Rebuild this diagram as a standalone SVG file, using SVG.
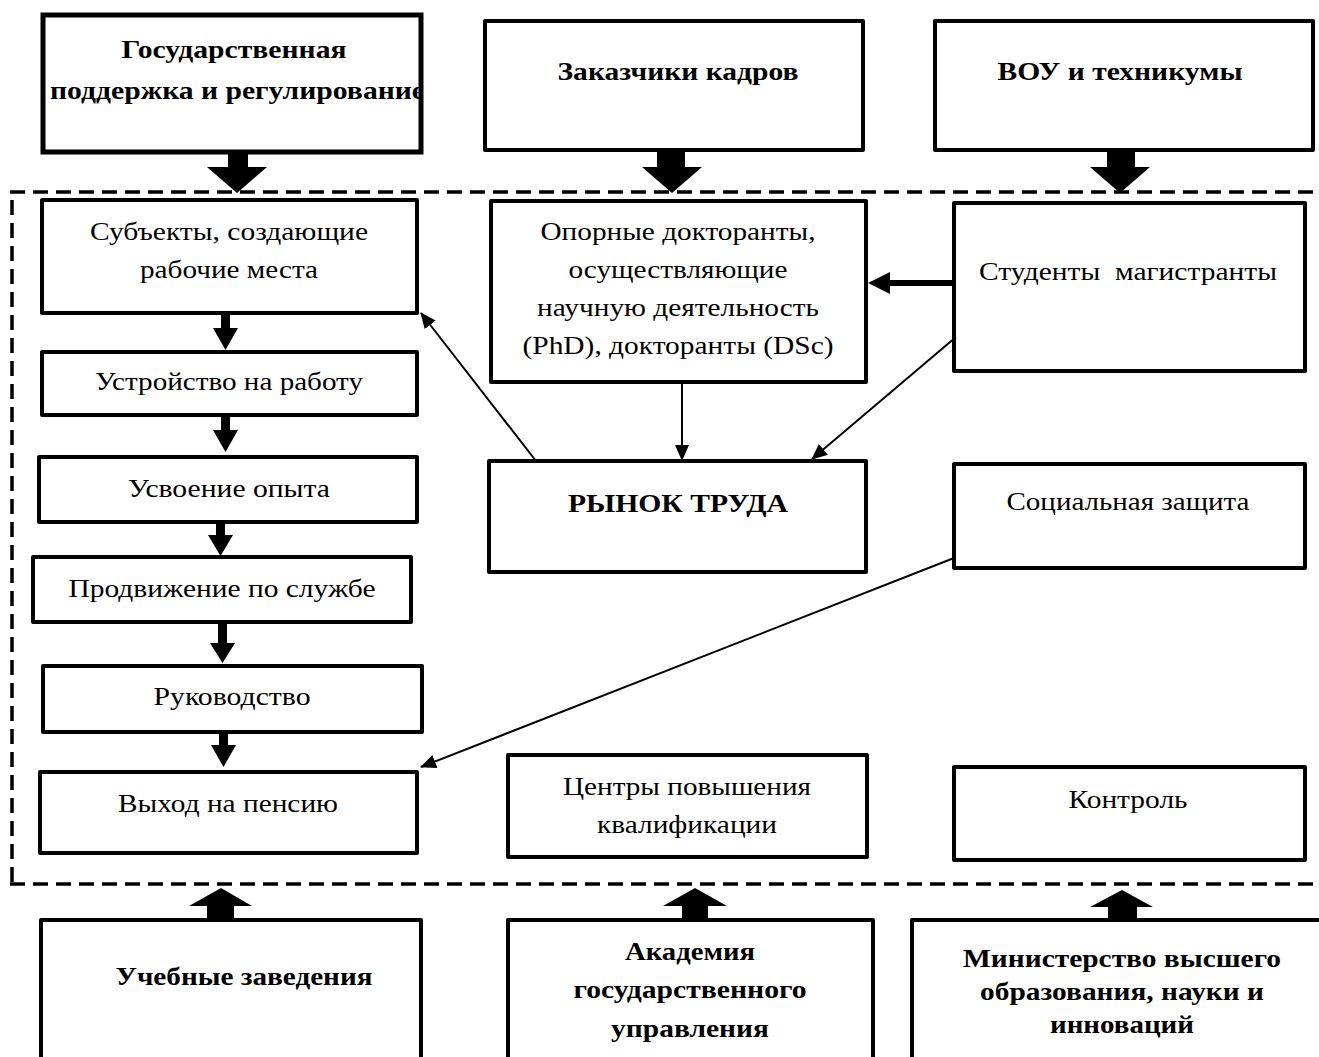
<svg xmlns="http://www.w3.org/2000/svg" width="1319" height="1057" viewBox="0 0 1319 1057">
<style>
.box{fill:#fff;stroke:#000;stroke-width:4;stroke-linejoin:round}
.t{font-family:"Liberation Serif","Times New Roman",serif;font-size:26px;fill:#000;text-anchor:middle}
.b{font-weight:bold}
.dash{fill:none;stroke:#000;stroke-width:3.5;stroke-dasharray:15 8}
.thin{fill:none;stroke:#000;stroke-width:2;marker-end:url(#ah)}
.fat{fill:#000;stroke:none}
</style>
<defs>
<marker id="ah" markerUnits="userSpaceOnUse" markerWidth="16" markerHeight="14" refX="15" refY="7" orient="auto">
<path d="M0,0 L16,7 L0,14 z" fill="#000"/>
</marker>
<clipPath id="clipG"><rect x="43" y="15" width="378" height="137"/></clipPath>
</defs>
<rect width="1319" height="1057" fill="#fff"/>

<g id="frame">
<line class="dash" x1="10" y1="192" x2="1319" y2="192"/>
<line class="dash" x1="12" y1="200" x2="12" y2="884"/>
<line class="dash" x1="10" y1="884" x2="1319" y2="884"/>
</g>

<g id="n-gos">
<rect class="box" x="43" y="15" width="378" height="137" stroke-width="5"/>
<text class="t b" x="234" y="58" textLength="225" lengthAdjust="spacingAndGlyphs">Государственная</text>
<g clip-path="url(#clipG)"><text class="t b" x="50" y="99" style="text-anchor:start" textLength="375" lengthAdjust="spacingAndGlyphs">поддержка и регулирование</text></g>
<rect x="43" y="15" width="378" height="137" fill="none" stroke="#000" stroke-width="5"/>
</g>
<g id="n-zak">
<rect class="box" x="485" y="21" width="378" height="129" stroke-width="5"/>
<text class="t b" x="678" y="80" textLength="241" lengthAdjust="spacingAndGlyphs">Заказчики кадров</text>
</g>
<g id="n-vou">
<rect class="box" x="935" y="21" width="378" height="129" stroke-width="5"/>
<text class="t b" x="1120" y="80" textLength="245" lengthAdjust="spacingAndGlyphs">ВОУ и техникумы</text>
</g>

<g id="n-subj">
<rect class="box" x="42" y="200" width="375" height="113"/>
<text class="t" x="229" y="240" textLength="278" lengthAdjust="spacingAndGlyphs">Субъекты, создающие</text>
<text class="t" x="229" y="278" textLength="178" lengthAdjust="spacingAndGlyphs">рабочие места</text>
</g>
<g id="n-ustr">
<rect class="box" x="42" y="352" width="375" height="63"/>
<text class="t" x="229" y="390" textLength="268" lengthAdjust="spacingAndGlyphs">Устройство на работу</text>
</g>
<g id="n-usv">
<rect class="box" x="39" y="457" width="378" height="65"/>
<text class="t" x="229" y="497" textLength="202" lengthAdjust="spacingAndGlyphs">Усвоение опыта</text>
</g>
<g id="n-prod">
<rect class="box" x="33" y="557" width="378" height="65"/>
<text class="t" x="222" y="597" textLength="307" lengthAdjust="spacingAndGlyphs">Продвижение по службе</text>
</g>
<g id="n-ruk">
<rect class="box" x="43" y="666" width="379" height="66"/>
<text class="t" x="232" y="705" textLength="157" lengthAdjust="spacingAndGlyphs">Руководство</text>
</g>
<g id="n-vyh">
<rect class="box" x="40" y="772" width="377" height="81"/>
<text class="t" x="228" y="812" textLength="220" lengthAdjust="spacingAndGlyphs">Выход на пенсию</text>
</g>

<g id="n-opor">
<rect class="box" x="491" y="201" width="375" height="181"/>
<text class="t" x="678" y="240" textLength="275" lengthAdjust="spacingAndGlyphs">Опорные докторанты,</text>
<text class="t" x="678" y="278" textLength="219" lengthAdjust="spacingAndGlyphs">осуществляющие</text>
<text class="t" x="678" y="316" textLength="282" lengthAdjust="spacingAndGlyphs">научную деятельность</text>
<text class="t" x="678" y="354" textLength="311" lengthAdjust="spacingAndGlyphs">(PhD), докторанты (DSc)</text>
</g>
<g id="n-rynok">
<rect class="box" x="489" y="461" width="377" height="111"/>
<text class="t b" x="678" y="512" textLength="220" lengthAdjust="spacingAndGlyphs">РЫНОК ТРУДА</text>
</g>
<g id="n-centr">
<rect class="box" x="508" y="755" width="359" height="102"/>
<text class="t" x="687" y="795" textLength="248" lengthAdjust="spacingAndGlyphs">Центры повышения</text>
<text class="t" x="687" y="833" textLength="180" lengthAdjust="spacingAndGlyphs">квалификации</text>
</g>

<g id="n-stud">
<rect class="box" x="954" y="203" width="351" height="168"/>
<text class="t" x="1128" y="280" style="white-space:pre" textLength="298" lengthAdjust="spacingAndGlyphs">Студенты  магистранты</text>
</g>
<g id="n-soc">
<rect class="box" x="954" y="464" width="351" height="104"/>
<text class="t" x="1128" y="510" textLength="243" lengthAdjust="spacingAndGlyphs">Социальная защита</text>
</g>
<g id="n-kontr">
<rect class="box" x="954" y="767" width="351" height="93"/>
<text class="t" x="1128" y="808" textLength="119" lengthAdjust="spacingAndGlyphs">Контроль</text>
</g>

<g id="n-ucheb">
<rect class="box" x="41" y="920" width="380" height="160" stroke-width="5"/>
<text class="t b" x="244" y="985" textLength="257" lengthAdjust="spacingAndGlyphs">Учебные заведения</text>
</g>
<g id="n-akad">
<rect class="box" x="508" y="920" width="365" height="160" stroke-width="5"/>
<text class="t b" x="690" y="960" textLength="130" lengthAdjust="spacingAndGlyphs">Академия</text>
<text class="t b" x="690" y="998" textLength="233" lengthAdjust="spacingAndGlyphs">государственного</text>
<text class="t b" x="690" y="1037" textLength="158" lengthAdjust="spacingAndGlyphs">управления</text>
</g>
<g id="n-min">
<rect class="box" x="912" y="920" width="420" height="160" stroke-width="5"/>
<text class="t b" x="1122" y="967" textLength="318" lengthAdjust="spacingAndGlyphs">Министерство высшего</text>
<text class="t b" x="1122" y="1000" textLength="284" lengthAdjust="spacingAndGlyphs">образования, науки и</text>
<text class="t b" x="1122" y="1033" textLength="144" lengthAdjust="spacingAndGlyphs">инноваций</text>
</g>

<g id="connectors">
<path class="fat" d="M228,152 H248 V167 H267 L237,193 L207,167 H228 Z"/>
<path class="fat" d="M657,150 H685 V167 H702 L672,193 L642,167 H657 Z"/>
<path class="fat" d="M1107,150 H1135 V167 H1150 L1120,193 L1090,167 H1107 Z"/>
<path class="fat" d="M207,920 H234 V906 H252 L221,888 L189,906 H207 Z"/>
<path class="fat" d="M682,920 H708 V906 H727 L695,888 L663,906 H682 Z"/>
<path class="fat" d="M1108,920 H1137 V907 H1153 L1122,890 L1090,907 H1108 Z"/>
<path class="fat" d="M221,313 H230 V328 H238 L225.5,350 L213,328 H221 Z"/>
<path class="fat" d="M221,415 H230 V430 H238 L225.5,452 L213,430 H221 Z"/>
<path class="fat" d="M216,522 H225 V535 H233 L220.5,556 L208,535 H216 Z"/>
<path class="fat" d="M218,622 H227 V643 H235 L222.5,663 L210,643 H218 Z"/>
<path class="fat" d="M219,732 H228 V745 H236 L223.5,767 L211,745 H219 Z"/>
<line x1="956" y1="283" x2="886" y2="283" stroke="#000" stroke-width="6"/>
<path class="fat" d="M868,283 L890,272 L890,294 Z"/>
<line class="thin" x1="536" y1="461" x2="421" y2="313"/>
<line class="thin" x1="682" y1="383" x2="682" y2="460"/>
<line class="thin" x1="956" y1="337" x2="812" y2="459"/>
<line class="thin" x1="954" y1="558" x2="421" y2="767"/>
</g>
</svg>
